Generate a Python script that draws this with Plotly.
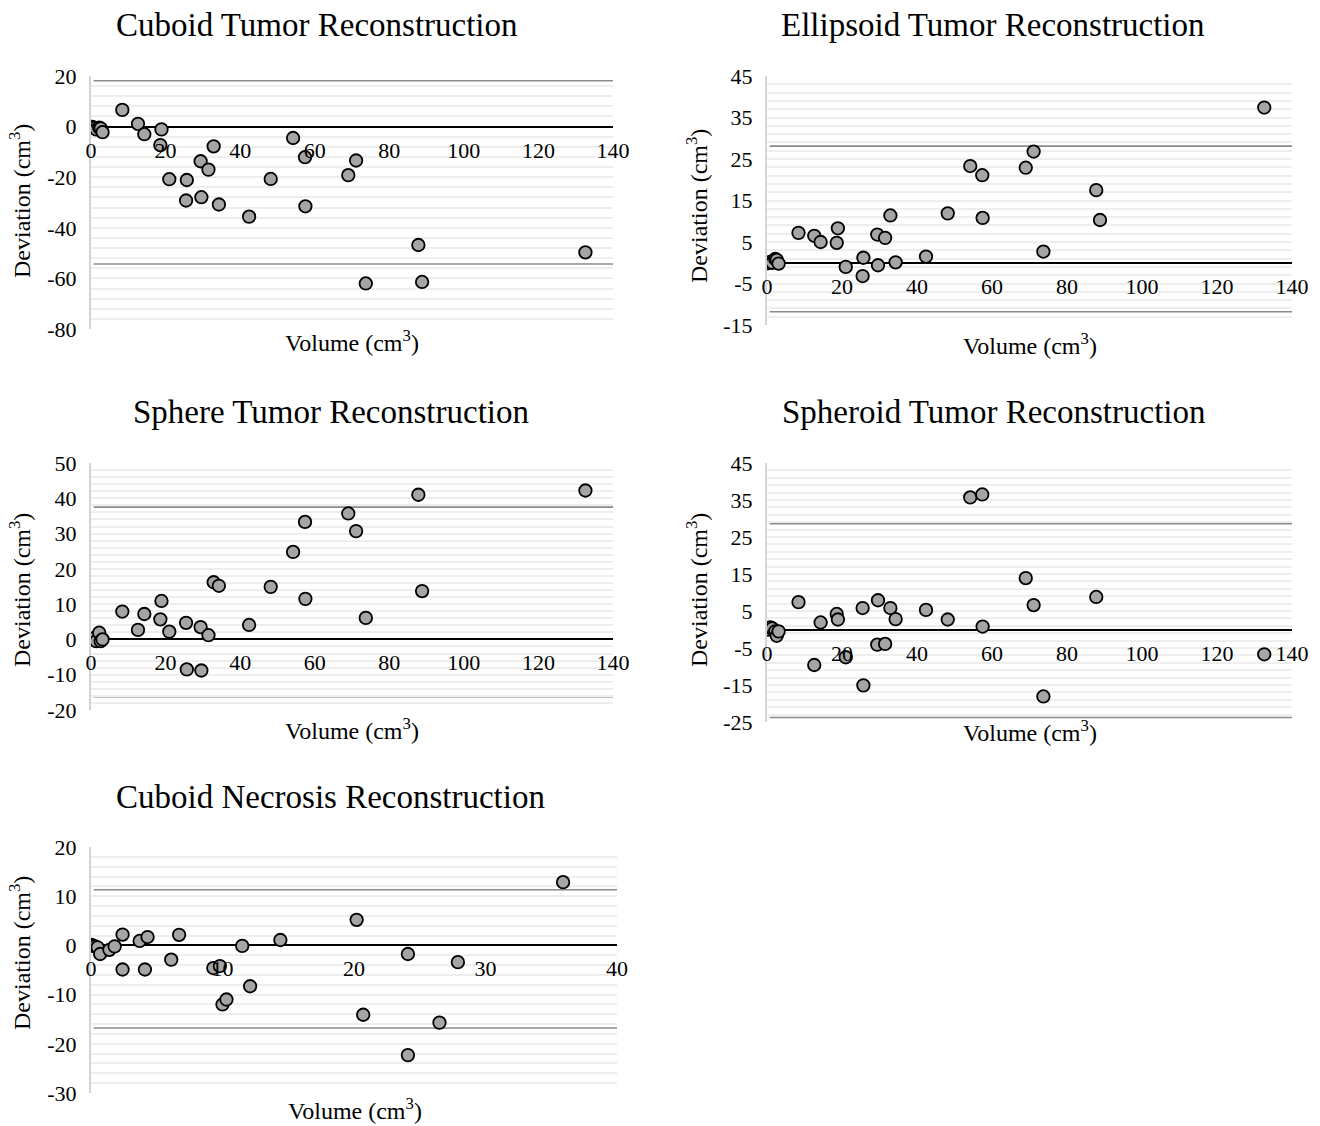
import plotly.graph_objects as go

# Reference volumes (cm³) shared by the four tumour reconstructions
volume = [0.3, 0.9, 1.4, 2.2, 2.6, 3.1, 8.4, 12.6, 14.3, 18.6, 18.9, 21.0, 25.5, 25.7,
          29.4, 29.6, 31.5, 32.9, 34.3, 42.4, 48.2, 54.2, 57.4, 57.5, 69.0, 71.1,
          73.7, 87.8, 88.8, 132.6]

# Deviation of each reconstruction from the reference volume (cm³)
cuboid_dev = [-0.1, -0.5, -1.1, -0.4, -0.7, -2.2, 6.6, 1.1, -3.0, -7.3, -1.1, -20.8,
              -29.2, -21.1, -13.7, -27.9, -17.0, -7.8, -30.8, -35.6, -20.7, -4.5,
              -12.1, -31.5, -19.2, -13.4, -62.0, -46.8, -61.4, -49.7]
ellipsoid_dev = [-0.1, 0.2, 0.0, 0.9, 0.7, -0.2, 7.2, 6.5, 5.0, 4.8, 8.3, -1.0,
                 -3.2, 1.2, 6.8, -0.6, 6.0, 11.4, 0.1, 1.5, 11.9, 23.3, 21.1, 10.8,
                 22.9, 26.8, 2.7, 17.5, 10.3, 37.4]
sphere_dev = [0.0, 0.4, -0.5, 1.9, -0.5, 0.0, 7.9, 2.7, 7.2, 5.7, 10.9, 2.2,
              4.7, -8.5, 3.5, -8.8, 1.2, 16.2, 15.2, 4.1, 14.9, 24.8, 33.3, 11.5,
              35.7, 30.7, 6.1, 41.0, 13.7, 42.2]
# the 88.8 cm³ case has no visible spheroid point
spheroid_dev = [0.0, 0.6, 0.3, -0.5, -1.7, -0.5, 7.4, -9.6, 1.9, 4.2, 2.7, -7.5,
                5.8, -15.1, -4.1, 7.9, -3.9, 5.8, 2.8, 5.3, 2.7, 35.7, 36.5, 0.8,
                13.9, 6.6, -18.1, 8.8, None, -6.7]

# Necrosis reconstruction
necrosis_volume = [0.0, 0.1, 0.3, 0.5, 0.7, 1.4, 1.8, 2.4, 2.4, 3.7, 4.1, 4.3, 6.1, 6.7,
                   9.3, 9.8, 10.0, 10.3, 11.5, 12.1, 14.4, 20.2, 20.7, 24.1, 24.1,
                   26.5, 27.9, 35.9]
necrosis_dev = [0.1, 0.0, -0.2, -0.4, -1.75, -0.9, -0.2, 2.2, -4.9, 0.9, -4.9, 1.7,
                -2.9, 2.15, -4.6, -4.2, -12.0, -11.0, -0.1, -8.3, 1.1, 5.2, -14.1,
                -1.75, -22.3, -15.7, -3.4, 12.85]

titles = ["Cuboid Tumor Reconstruction", "Ellipsoid Tumor Reconstruction",
          "Sphere Tumor Reconstruction", "Spheroid Tumor Reconstruction",
          "Cuboid Necrosis Reconstruction"]
# Limits of agreement
upper_limits = [18.1, 28.1, 37.5, 28.6, 11.3]
lower_limits = [-54.3, -11.8, -16.2, -23.8, -16.8]
y_ranges = [(-80, 20), (-15, 45), (-20, 50), (-25, 45), (-30, 20)]
y_steps = [20, 10, 10, 10, 10]
x_ranges = [(0, 140), (0, 140), (0, 140), (0, 140), (0, 40)]
x_steps = [20, 20, 20, 20, 10]

series_x = [volume, volume, volume, volume, necrosis_volume]
series_y = [cuboid_dev, ellipsoid_dev, sphere_dev, spheroid_dev, necrosis_dev]

W, H = 1320, 1126
FONT = "Liberation Serif"

# Plot boxes in pixels: left, right, top, bottom
boxes = [(91, 613, 76, 329), (767, 1292, 76, 325), (91, 613, 463, 710),
         (767, 1292, 463, 722), (91, 617, 847, 1093)]
title_pos = [(317, 25), (993, 25), (331, 412), (994, 412), (330, 797)]
ytitle_pos = [(20, 201), (697, 206), (20, 590), (697, 590), (20, 953)]
xtitle_pos = [(352, 341), (1030, 344), (352, 729), (1030, 731), (355, 1109)]


def fx(p):
    return p / W


def fy(p):
    return 1 - p / H


def tick_values(lo, hi, step):
    vals = []
    v = lo
    while v <= hi + 1e-9:
        vals.append(v)
        v += step
    return vals


fig = go.Figure()
layout = dict(
    width=W, height=H,
    margin=dict(l=0, r=0, t=0, b=0, pad=0, autoexpand=False),
    paper_bgcolor="white", plot_bgcolor="white", showlegend=False,
    font=dict(family=FONT, color="black"),
)

for i in range(5):
    n = i + 1
    sx = "" if n == 1 else str(n)
    l, r, t, b = boxes[i]
    ymin, ymax = y_ranges[i]
    ydom = [fy(b), fy(t)]
    zero_pos = ydom[0] + (0 - ymin) / (ymax - ymin) * (ydom[1] - ydom[0])

    fig.add_trace(go.Scatter(
        x=series_x[i], y=series_y[i], mode="markers",
        xaxis="x" + sx, yaxis="y" + sx,
        marker=dict(size=12.5, color="#a5a5a5", line=dict(color="black", width=1.8)),
        hoverinfo="x+y",
    ))

    yt = tick_values(ymin, ymax, y_steps[i])
    xt = tick_values(x_ranges[i][0], x_ranges[i][1], x_steps[i])

    layout["xaxis" + sx] = dict(
        domain=[fx(l), fx(r)], range=list(x_ranges[i]), automargin=False,
        tickmode="array", tickvals=xt, ticktext=[str(v) for v in xt],
        anchor="free", position=zero_pos, showgrid=False, zeroline=False,
        showline=False, ticks="", ticklabelstandoff=8,
        tickfont=dict(family=FONT, size=22, color="black"),
    )
    layout["yaxis" + sx] = dict(
        domain=ydom, range=[ymin, ymax], automargin=False,
        tickmode="array", tickvals=yt, ticktext=[str(v) for v in yt],
        anchor="x" + sx, showgrid=False,
        minor=dict(tickmode="linear", dtick=y_steps[i] / 5, tick0=ymin, showgrid=True,
                   gridcolor="#eeeeee", gridwidth=1.5),
        showline=True, linecolor="#d4d4d4", linewidth=2,
        zeroline=True, zerolinecolor="black", zerolinewidth=2,
        ticks="", ticklabelstandoff=8,
        tickfont=dict(family=FONT, size=22, color="black"),
    )

    for lim in (upper_limits[i], lower_limits[i]):
        fig.add_shape(type="line", xref="x" + sx + " domain", yref="y" + sx,
                      x0=0.005, x1=1, y0=lim, y1=lim,
                      line=dict(color="#8a8a8a", width=1.6), layer="below")

    tx, ty = title_pos[i]
    fig.add_annotation(text=titles[i], x=fx(tx), y=fy(ty), xref="paper", yref="paper",
                       showarrow=False, xanchor="center", yanchor="middle",
                       font=dict(family=FONT, size=33, color="black"))
    ax, ay = ytitle_pos[i]
    fig.add_annotation(text="Deviation (cm<sup>3</sup>)", x=fx(ax), y=fy(ay),
                       xref="paper", yref="paper", showarrow=False, textangle=-90,
                       xanchor="center", yanchor="middle",
                       font=dict(family=FONT, size=24, color="black"))
    bx, by = xtitle_pos[i]
    fig.add_annotation(text="Volume (cm<sup>3</sup>)", x=fx(bx), y=fy(by),
                       xref="paper", yref="paper", showarrow=False,
                       xanchor="center", yanchor="middle", borderpad=0,
                       font=dict(family=FONT, size=24, color="black"))

fig.update_layout(**layout)
fig.write_html("out.html")
